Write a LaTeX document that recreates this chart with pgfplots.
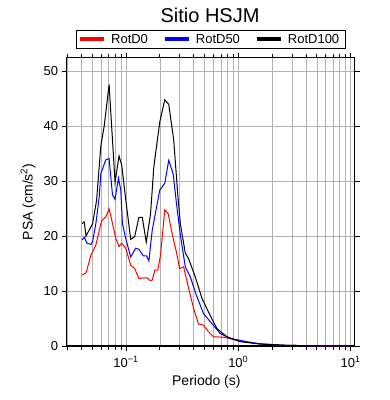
\documentclass[border=0pt]{standalone}
\usepackage{pgfplots}
\usepackage{pgfplotstable}
\pgfplotsset{compat=1.18}
\usepackage{fontspec}
\setmainfont{Liberation Sans}

\pgfplotstableread{
T psa
0.0406 12.9
0.0440 13.3
0.0487 16.5
0.0539 18.4
0.0606 22.8
0.0661 23.5
0.0707 25.0
0.0758 22.3
0.0811 19.6
0.0867 18.1
0.0916 18.7
0.0994 17.8
0.1101 14.7
0.1194 14.1
0.1303 12.3
0.1443 12.4
0.1547 12.4
0.1631 11.9
0.1713 12.0
0.1805 13.8
0.1919 13.8
0.2029 16.5
0.2214 24.8
0.2373 24.1
0.2574 20.5
0.2810 17.1
0.3006 14.1
0.3261 14.4
0.3611 10.5
0.3998 6.9
0.4426 4.0
0.4901 3.8
0.5428 2.6
0.6008 1.7
0.7367 1.6
0.9033 1.2
1.187 0.7
1.556 0.4
2.5 0.15
4 0.06
10 0.02
}\rotdzero

\pgfplotstableread{
T psa
0.0406 19.3
0.0425 19.8
0.0449 18.7
0.0487 18.5
0.0504 19.0
0.0539 22.3
0.0577 27.1
0.0597 31.4
0.0661 33.9
0.0707 34.1
0.0758 27.5
0.0799 26.7
0.0857 30.6
0.0898 28.4
0.0929 22.3
0.0994 19.6
0.1101 16.2
0.1218 17.8
0.1303 17.6
0.1426 16.4
0.1525 16.4
0.1598 15.5
0.1713 21.1
0.2000 28.4
0.2214 29.6
0.2402 33.8
0.2627 31.4
0.2851 25.0
0.3049 20.2
0.3375 14.4
0.3738 12.6
0.4224 9.3
0.4901 5.9
0.5816 4.1
0.6889 2.3
0.8446 1.4
1.187 0.8
1.556 0.4
2.5 0.15
4 0.06
10 0.02
}\rotdfifty

\pgfplotstableread{
T psa
0.0406 22.3
0.0425 22.6
0.0440 20.0
0.0487 21.7
0.0504 22.3
0.0547 26.5
0.0597 36.5
0.0639 40.0
0.0707 47.6
0.0799 29.8
0.0867 34.6
0.0916 32.9
0.0994 26.7
0.1101 19.4
0.1194 19.9
0.1303 23.4
0.1397 23.4
0.1515 18.9
0.1655 24.1
0.1769 32.6
0.2000 40.8
0.2214 44.8
0.2402 44.0
0.2660 37.5
0.2886 27.8
0.3049 22.3
0.3375 16.9
0.3611 15.9
0.4139 12.6
0.4744 8.7
0.5428 6.2
0.6441 3.2
0.7897 1.7
1.035 0.8
1.556 0.36
2.5 0.15
4 0.07
10 0.02
}\rotdhundred

\begin{document}
\begin{tikzpicture}
\useasboundingbox (-66.7pt,-54pt) rectangle (323.3pt,346.3pt);
\begin{axis}[
  at={(0pt,0pt)}, anchor=south west,
  scale only axis, width=288.3pt, height=288.7pt,
  xmode=log, xmin=0.0296, xmax=10.9,
  ymin=0, ymax=52.5,
  xtick={0.1,1,10},
  xticklabels={{10\textsuperscript{−1}},{10\textsuperscript{0}},{10\textsuperscript{1}}},
  minor xtick={0.03,0.04,0.05,0.06,0.07,0.08,0.09,0.2,0.3,0.4,0.5,0.6,0.7,0.8,0.9,2,3,4,5,6,7,8,9},
  ytick={0,10,20,30,40,50},
  xtick pos=both, ytick pos=both,
  xticklabel pos=lower, yticklabel pos=left,
  tick align=outside,
  major tick length=5pt, minor tick length=3.5pt,
  tick style={black, line width=0.6pt},
  grid=both,
  major grid style={gray!60, line width=0.4pt},
  minor grid style={gray!60, line width=0.4pt},
  axis line style={line width=1.5pt},
  /pgf/number format/assume math mode=true,
  tick label style={font=\fontsize{13}{15}\selectfont},
  xticklabel style={yshift=-2pt},
  xlabel={Periodo (s)},
  ylabel={PSA (cm/s\textsuperscript{2})},
  every axis x label/.style={at={(axis description cs:0.485,0)}, yshift=-36pt, anchor=center, font=\fontsize{14}{16}\selectfont},
  every axis y label/.style={at={(axis description cs:0,0.5)}, xshift=-38.7pt, rotate=90, anchor=center, font=\fontsize{14}{16}\selectfont},
  legend columns=3,
  legend style={at={(0.5,1.097)}, anchor=north, draw=black, line width=1.3pt,
    font=\fontsize{13}{15}\selectfont, inner xsep=4pt, inner ysep=2pt,
    /tikz/every even column/.append style={column sep=15pt}},
  legend image code/.code={\fill[#1, draw=none] (0pt,-2pt) rectangle (24pt,2pt); \path[draw=none] (0pt,0pt) -- (29pt,0pt);},
  clip=true,
]
\addplot[red, line width=1pt] table[x=T, y=psa] {\rotdzero};
\addlegendentry{RotD0}
\addplot[blue, line width=1pt] table[x=T, y=psa] {\rotdfifty};
\addlegendentry{RotD50}
\addplot[black, line width=1pt] table[x=T, y=psa] {\rotdhundred};
\addlegendentry{RotD100}
\end{axis}
\node[font=\fontsize{20}{24}\selectfont] at (143.5pt,331pt) {Sitio HSJM};
\end{tikzpicture}
\end{document}
